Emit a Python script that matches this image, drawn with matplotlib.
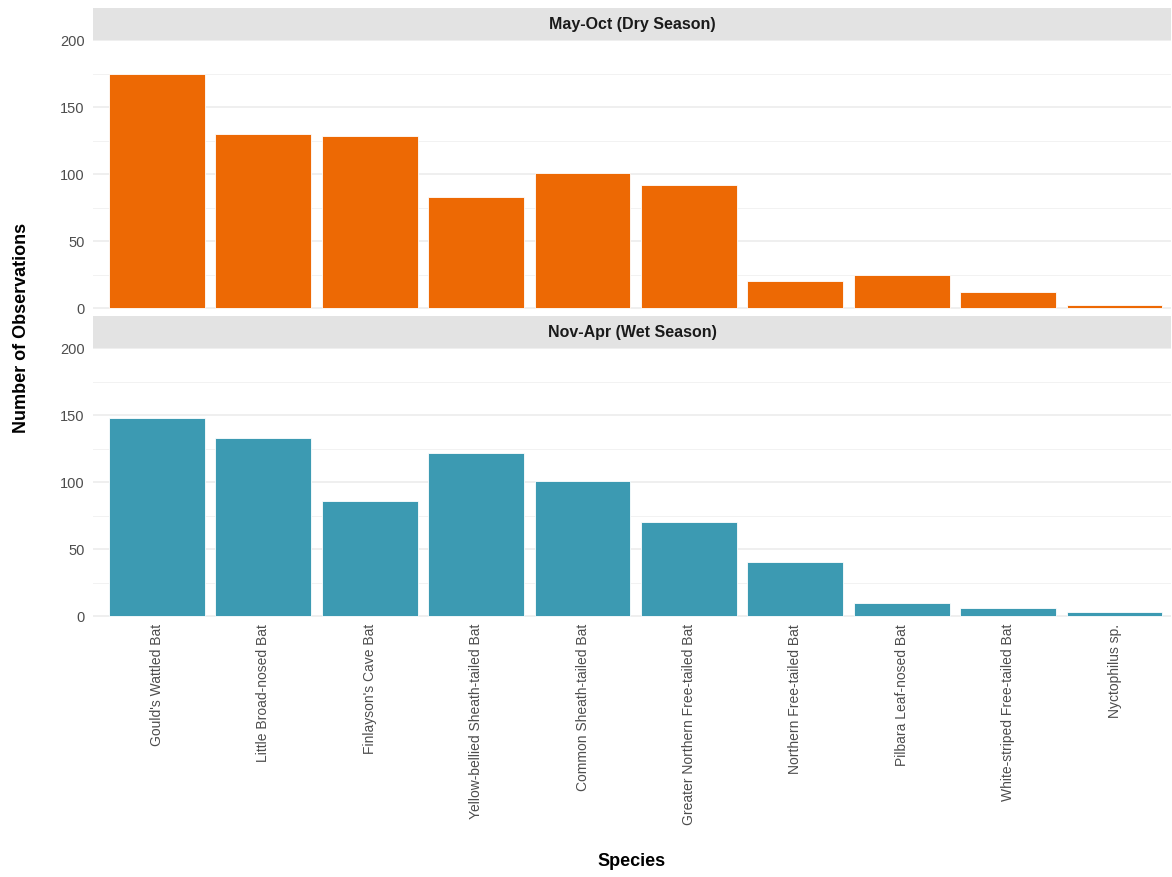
import matplotlib
matplotlib.use("Agg")
import matplotlib.pyplot as plt
from matplotlib.ticker import MultipleLocator

plt.rcParams['font.family'] = ['Liberation Sans', 'DejaVu Sans']

species = ["Gould's Wattled Bat", "Little Broad-nosed Bat", "Finlayson's Cave Bat",
           "Yellow-bellied Sheath-tailed Bat", "Common Sheath-tailed Bat",
           "Greater Northern Free-tailed Bat", "Northern Free-tailed Bat",
           "Pilbara Leaf-nosed Bat", "White-striped Free-tailed Bat", "Nyctophilus sp."]
dry = [175, 130, 128, 83, 101, 92, 20, 25, 12, 2]
wet = [148, 133, 86, 122, 101, 70, 40, 10, 6, 3]

panels = [("May-Oct (Dry Season)", dry, "#ED6904"),
          ("Nov-Apr (Wet Season)", wet, "#3C9AB2")]

W, H = 1172, 877
fig = plt.figure(figsize=(W / 100, H / 100), dpi=100)

# pixel boxes: (strip top, panel top, panel bottom)
boxes = [(8, 40, 311), (316, 348, 619)]
left, right = 93, 1171

x = list(range(len(species)))
for i, ((title, vals, col), (st, pt, pb)) in enumerate(zip(panels, boxes)):
    # strip
    sax = fig.add_axes([left / W, 1 - pt / H, (right - left) / W, (pt - st) / H])
    sax.set_facecolor("#E3E3E3")
    sax.set_xticks([]); sax.set_yticks([])
    for s in sax.spines.values():
        s.set_visible(False)
    sax.text(0.5, 0.5, title, ha="center", va="center", fontsize=11.5,
             fontweight="bold", color="#1A1A1A", transform=sax.transAxes)

    ax = fig.add_axes([left / W, 1 - pb / H, (right - left) / W, (pb - pt) / H])
    ax.bar(x, vals, width=0.9, color=col, edgecolor="white", linewidth=0.6, zorder=3)
    ax.set_xlim(-0.6, 9.53)
    ax.set_ylim(-2.2, 200)
    ax.yaxis.set_major_locator(MultipleLocator(50))
    ax.yaxis.set_minor_locator(MultipleLocator(25))
    ax.grid(axis="y", which="major", color="#EBEBEB", linewidth=1.1, zorder=0)
    ax.grid(axis="y", which="minor", color="#F2F2F2", linewidth=0.7, zorder=0)
    for s in ax.spines.values():
        s.set_visible(False)
    ax.tick_params(axis="both", which="both", length=0)
    ax.tick_params(axis="y", labelsize=10.5, labelcolor="#4D4D4D", pad=6)
    ax.set_xticks(x)
    if i == 1:
        ax.set_xticklabels(species, rotation=90, fontsize=10, color="#4D4D4D",
                           ha="center", va="top")
    else:
        ax.set_xticklabels([])

fig.text(22 / W, 1 - 328 / H, "Number of Observations", rotation=90, ha="center",
         va="center", fontsize=13, fontweight="bold", color="black")
fig.text((left + right) / 2 / W, 1 - 861 / H, "Species", ha="center", va="center",
         fontsize=13, fontweight="bold", color="black")

fig.savefig("out.png", dpi=100)
